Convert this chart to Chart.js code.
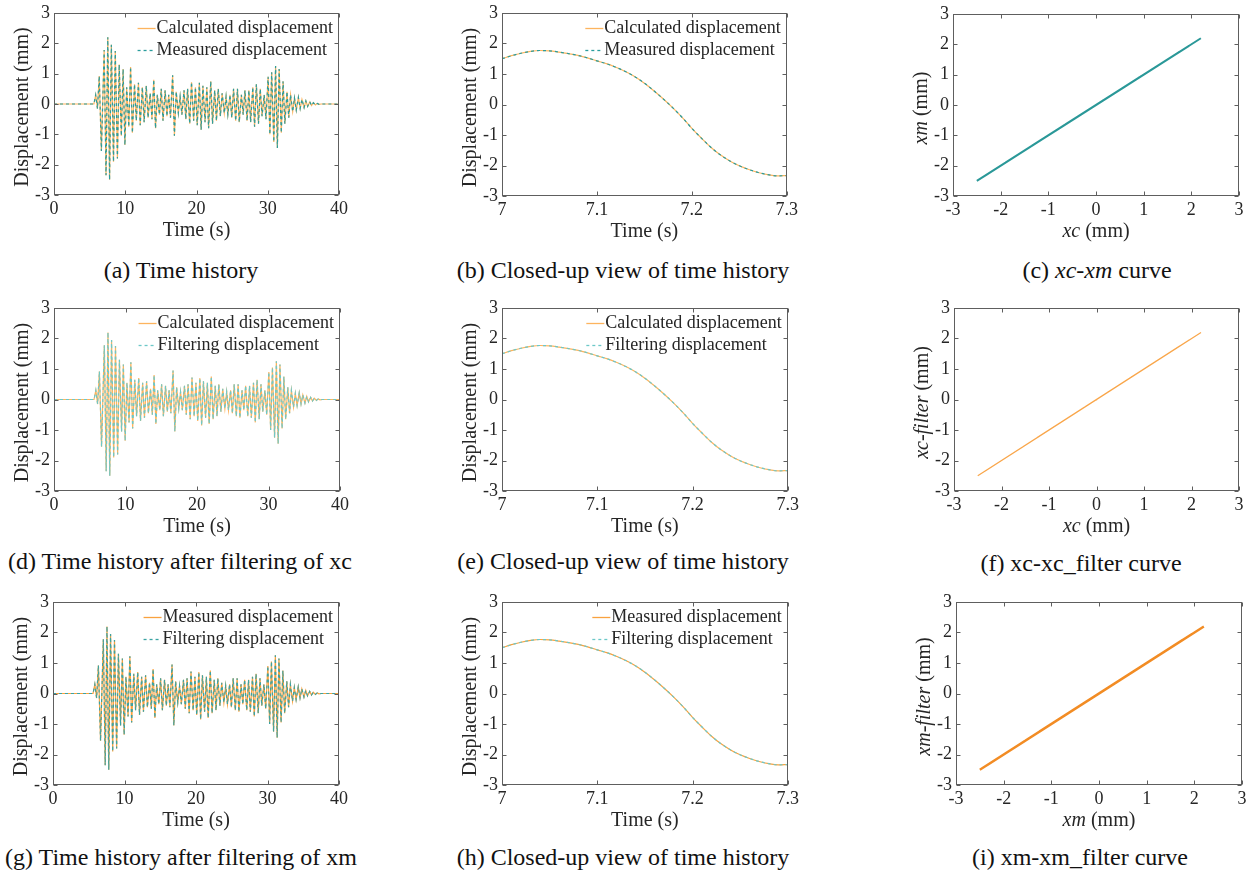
<!DOCTYPE html>
<html>
<head>
<meta charset="utf-8">
<script src="https://cdn.jsdelivr.net/npm/chart.js@4.4.0/dist/chart.umd.min.js"></script>
<style>
  body { margin: 0; background: #fff; width: 1252px; height: 875px; position: relative; overflow: hidden;
         font-family: 'Liberation Serif', 'Times New Roman', serif; }
  canvas { position: absolute; }
  .cap { position: absolute; font-size: 24px; line-height: 1; color: #111; white-space: nowrap; transform: translate(-50%, -50%); }
</style>
</head>
<body>
<script>
// time history (s, mm)
const historyTime = [
  0, 5.6, 5.85, 6.1, 6.35, 6.65, 7.04, 7.3, 7.55, 7.8,
  8.05, 8.35, 8.6, 8.9, 9.15, 9.45, 9.7, 9.95, 10.2, 10.5,
  10.75, 11.0, 11.3, 11.55, 11.85, 12.1, 12.4, 12.65, 12.95, 13.2,
  13.5, 13.75, 14.0, 14.25, 14.5, 14.8, 15.05, 15.3, 15.6, 15.85,
  16.1, 16.35, 16.65, 16.9, 17.15, 17.45, 17.7, 17.95, 18.25, 18.5,
  18.75, 19.05, 19.3, 19.6, 19.85, 20.1, 20.4, 20.65, 20.9, 21.2,
  21.45, 21.7, 22.0, 22.25, 22.55, 22.8, 23.05, 23.35, 23.6, 23.9,
  24.15, 24.4, 24.7, 24.95, 25.2, 25.5, 25.75, 26.0, 26.3, 26.55,
  26.8, 27.1, 27.35, 27.6, 27.9, 28.15, 28.4, 28.7, 28.95, 29.2,
  29.5, 29.75, 30.05, 30.3, 30.55, 30.85, 31.1, 31.35, 31.6, 31.9,
  32.15, 32.4, 32.7, 32.95, 33.2, 33.5, 33.75, 34.0, 34.3, 34.55,
  34.8, 35.1, 35.35, 35.6, 35.9, 36.15, 36.4, 36.7, 36.95, 37.2,
  37.5, 40
];
const calcDisp = [
  0, 0, 0.30, -0.15, 0.92, -1.55, 1.78, -2.35, 2.20, -2.50,
  1.95, -1.90, 1.75, -1.80, 1.30, -1.05, 1.15, -1.35, 0.55, -0.75,
  1.22, -0.95, 0.65, -0.55, 0.70, -0.70, 0.55, -0.60, 0.60, -0.45,
  0.35, -0.50, 0.80, -0.80, 0.30, -0.35, 0.50, -0.55, 0.45, -0.40,
  0.30, -0.45, 0.95, -1.05, 0.40, -0.30, 0.25, -0.35, 0.45, -0.50,
  0.50, -0.65, 0.72, -0.55, 0.55, -0.70, 0.70, -0.85, 0.60, -0.60,
  0.55, -0.80, 0.75, -0.65, 0.45, -0.55, 0.50, -0.40, 0.35, -0.30,
  0.25, -0.35, 0.30, -0.45, 0.50, -0.55, 0.50, -0.60, 0.30, -0.35,
  0.45, -0.55, 0.45, -0.60, 0.55, -0.75, 0.65, -0.65, 0.50, -0.40,
  0.30, -0.50, 0.90, -1.00, 1.05, -1.25, 1.25, -1.45, 1.15, -0.95,
  0.75, -0.65, 0.40, -0.45, 0.30, -0.25, 0.20, -0.20, 0.22, -0.15,
  0.15, -0.12, 0.10, -0.08, 0.07, -0.05, 0.04, -0.03, 0.02, -0.01,
  0, 0
];
// measured and filtered traces lie on top of the calculated one
const measDisp = calcDisp;
const filtCalcDisp = calcDisp;
const filtMeasDisp = calcDisp;

// closed-up window 7.0 - 7.3 s
const zoomTime = [
  7.00, 7.01, 7.02, 7.03, 7.04, 7.05, 7.06, 7.07, 7.08, 7.09,
  7.10, 7.11, 7.12, 7.13, 7.14, 7.15, 7.16, 7.17, 7.18, 7.19,
  7.20, 7.21, 7.22, 7.23, 7.24, 7.25, 7.26, 7.27, 7.28, 7.29, 7.30
];
const zoomDisp = [
  1.50, 1.60, 1.68, 1.74, 1.77, 1.76, 1.72, 1.67, 1.61, 1.53,
  1.43, 1.34, 1.22, 1.08, 0.91, 0.70, 0.45, 0.18, -0.11, -0.43,
  -0.78, -1.10, -1.40, -1.65, -1.85, -2.01, -2.13, -2.23, -2.30, -2.34, -2.33
];

const timeTicks = [0, 10, 20, 30, 40];
const zoomTicks = [7, 7.1, 7.2, 7.3];
const dispTicks = [-3, -2, -1, 0, 1, 2, 3];

const FONT = "'Liberation Serif', 'Times New Roman', serif";
const INK = '#262626';
const AXIS = '#5e5e5e';

function pts(xs, ys) {
  return xs.map((x, i) => ({ x: x, y: ys[i] }));
}

function richText(ctx, parts, x, y, size, vertical) {
  ctx.save();
  ctx.translate(x, y);
  if (vertical) ctx.rotate(-Math.PI / 2);
  ctx.textBaseline = 'middle';
  ctx.textAlign = 'left';
  ctx.fillStyle = INK;
  const fonts = parts.map(p => (p[1] ? 'italic ' : '') + size + 'px ' + FONT);
  let total = 0;
  const widths = parts.map((p, i) => {
    ctx.font = fonts[i];
    const w = ctx.measureText(p[0]).width;
    total += w;
    return w;
  });
  let cx = -total / 2;
  parts.forEach((p, i) => {
    ctx.font = fonts[i];
    ctx.fillText(p[0], cx, 0);
    cx += widths[i];
  });
  ctx.restore();
}

// box, inward ticks, inner legend and axis titles in the matlab manner
const matlabFrame = {
  id: 'matlabFrame',
  afterDatasetsDraw(chart, args, o) {
    const { ctx, chartArea: a, scales } = chart;
    ctx.save();
    ctx.strokeStyle = AXIS;
    ctx.lineWidth = 1;
    const l = Math.round(a.left) + 0.5, r = Math.round(a.right) - 0.5;
    const t = Math.round(a.top) + 0.5, b = Math.round(a.bottom) - 0.5;
    ctx.strokeRect(l, t, r - l, b - t);
    const tl = 4;
    ctx.beginPath();
    scales.x.ticks.forEach(tk => {
      const px = Math.round(scales.x.getPixelForValue(tk.value)) + 0.5;
      ctx.moveTo(px, b); ctx.lineTo(px, b - tl);
      ctx.moveTo(px, t); ctx.lineTo(px, t + tl);
    });
    scales.y.ticks.forEach(tk => {
      const py = Math.round(scales.y.getPixelForValue(tk.value)) + 0.5;
      ctx.moveTo(l, py); ctx.lineTo(l + tl, py);
      ctx.moveTo(r, py); ctx.lineTo(r - tl, py);
    });
    ctx.stroke();

    if (o.legend) {
      const ds = chart.data.datasets;
      ctx.font = '18px ' + FONT;
      const maxW = Math.max(...ds.map(d => ctx.measureText(d.label).width));
      const tx = a.right - 6 - maxW;
      ds.forEach((d, i) => {
        const y = Math.round(a.top + 15 + i * 22) + 0.5;
        ctx.strokeStyle = d.borderColor;
        ctx.lineWidth = 1.3;
        ctx.setLineDash(d.borderDash || []);
        ctx.beginPath();
        ctx.moveTo(tx - 19, y);
        ctx.lineTo(tx - 1, y);
        ctx.stroke();
        ctx.setLineDash([]);
        ctx.fillStyle = INK;
        ctx.textBaseline = 'middle';
        ctx.textAlign = 'left';
        ctx.fillText(d.label, tx, y);
      });
    }
    richText(ctx, o.xTitle, (a.left + a.right) / 2, a.bottom + 36, 20, false);
    richText(ctx, o.yTitle, a.left - 31, (a.top + a.bottom) / 2 + 3, 20, true);
    ctx.restore();
  }
};

function traceSet(label, xs, ys, color, dashed, smooth) {
  return {
    label: label,
    data: pts(xs, ys),
    borderColor: color,
    borderWidth: 1.2,
    borderDash: dashed ? [3, 3] : [],
    pointRadius: 0,
    tension: smooth ? 0.4 : 0,
    cubicInterpolationMode: smooth ? 'monotone' : 'default',
    order: dashed ? 0 : 1
  };
}

function axis(ticks, fit) {
  return {
    type: 'linear',
    min: ticks[0],
    max: ticks[ticks.length - 1],
    afterBuildTicks: s => { s.ticks = ticks.map(v => ({ value: v })); },
    afterFit: fit,
    grid: { display: false, drawTicks: false },
    border: { display: false },
    ticks: {
      font: { size: 18, family: FONT, lineHeight: 1 },
      color: INK,
      autoSkip: false,
      maxRotation: 0,
      callback: v => String(v)
    }
  };
}

function makePanel(p) {
  const W = p.w + 54 + 16, H = p.h + 10 + 52;
  const cv = document.createElement('canvas');
  cv.width = W; cv.height = H;
  cv.style.left = (p.left - 54) + 'px';
  cv.style.top = (p.top - 10) + 'px';
  cv.style.width = W + 'px';
  cv.style.height = H + 'px';
  document.body.appendChild(cv);

  const xAxis = axis(p.xTicks, s => { s.height = H - 10 - p.h; });
  xAxis.ticks.padding = 5;
  const yAxis = axis(dispTicks, s => { s.width = 54; });
  yAxis.ticks.padding = 4;

  new Chart(cv, {
    type: 'line',
    data: { datasets: p.datasets },
    options: {
      responsive: false,
      animation: false,
      devicePixelRatio: 1,
      layout: { padding: { left: 0, top: 10, right: 16, bottom: 0 } },
      scales: { x: xAxis, y: yAxis },
      plugins: {
        legend: { display: false },
        tooltip: { enabled: false },
        matlabFrame: { legend: p.legend, xTitle: p.xTitle, yTitle: p.yTitle }
      }
    },
    plugins: [matlabFrame]
  });

  const cap = document.createElement('div');
  cap.className = 'cap';
  cap.style.left = p.capX + 'px';
  cap.style.top = p.capY + 'px';
  cap.innerHTML = p.caption;
  document.body.appendChild(cap);
}

const ORANGE = '#FDB45E';
const TEAL = '#2A9D9D';
const TEAL_LIGHT = '#6CC8C8';
const dispTitle = [['Displacement (mm)', false]];
const timeTitle = [['Time (s)', false]];

const panels = [
  { left: 54, top: 10, w: 285, h: 185, xTicks: timeTicks, legend: true, capX: 181, capY: 270,
    caption: '(a) Time history', xTitle: timeTitle, yTitle: dispTitle,
    datasets: [traceSet('Calculated displacement', historyTime, calcDisp, ORANGE, false),
               traceSet('Measured displacement', historyTime, measDisp, TEAL, true)] },
  { left: 502, top: 10, w: 285, h: 186, xTicks: zoomTicks, legend: true, capX: 623, capY: 270,
    caption: '(b) Closed-up view of time history', xTitle: timeTitle, yTitle: dispTitle,
    datasets: [traceSet('Calculated displacement', zoomTime, zoomDisp, ORANGE, false, true),
               traceSet('Measured displacement', zoomTime, zoomDisp, TEAL, true, true)] },
  { left: 953, top: 11, w: 286, h: 185, xTicks: dispTicks, legend: false, capX: 1097, capY: 270,
    caption: '(c) <i>xc-xm</i> curve', xTitle: [['xc', true], [' (mm)', false]], yTitle: [['xm', true], [' (mm)', false]],
    datasets: [Object.assign(traceSet('xc-xm', calcDisp, measDisp, '#2A9898', false), { borderWidth: 2 })] },

  { left: 54, top: 305, w: 286, h: 186, xTicks: timeTicks, legend: true, capX: 180, capY: 561,
    caption: '(d) Time history after filtering of xc', xTitle: timeTitle, yTitle: dispTitle,
    datasets: [traceSet('Calculated displacement', historyTime, calcDisp, ORANGE, false),
               traceSet('Filtering displacement', historyTime, filtCalcDisp, TEAL_LIGHT, true)] },
  { left: 502, top: 305, w: 286, h: 186, xTicks: zoomTicks, legend: true, capX: 623, capY: 561,
    caption: '(e) Closed-up view of time history', xTitle: timeTitle, yTitle: dispTitle,
    datasets: [traceSet('Calculated displacement', zoomTime, zoomDisp, ORANGE, false, true),
               traceSet('Filtering displacement', zoomTime, zoomDisp, TEAL_LIGHT, true, true)] },
  { left: 954, top: 305, w: 285, h: 186, xTicks: dispTicks, legend: false, capX: 1081, capY: 563,
    caption: '(f) xc-xc_filter curve', xTitle: [['xc', true], [' (mm)', false]], yTitle: [['xc-filter', true], [' (mm)', false]],
    datasets: [traceSet('xc-xc_filter', calcDisp, filtCalcDisp, '#F9A64A', false)] },

  { left: 53, top: 599, w: 286, h: 186, xTicks: timeTicks, legend: true, capX: 181, capY: 857,
    caption: '(g) Time history after filtering of xm', xTitle: timeTitle, yTitle: dispTitle,
    datasets: [traceSet('Measured displacement', historyTime, measDisp, '#F9A23F', false),
               traceSet('Filtering displacement', historyTime, filtMeasDisp, '#3AA3A3', true)] },
  { left: 502, top: 599, w: 286, h: 186, xTicks: zoomTicks, legend: true, capX: 623, capY: 857,
    caption: '(h) Closed-up view of time history', xTitle: timeTitle, yTitle: dispTitle,
    datasets: [traceSet('Measured displacement', zoomTime, zoomDisp, '#F9A23F', false, true),
               traceSet('Filtering displacement', zoomTime, zoomDisp, TEAL_LIGHT, true, true)] },
  { left: 956, top: 599, w: 286, h: 186, xTicks: dispTicks, legend: false, capX: 1080, capY: 857,
    caption: '(i) xm-xm_filter curve', xTitle: [['xm', true], [' (mm)', false]], yTitle: [['xm-filter', true], [' (mm)', false]],
    datasets: [Object.assign(traceSet('xm-xm_filter', measDisp, filtMeasDisp, '#F28C24', false), { borderWidth: 2.4 })] }
];

panels.forEach(makePanel);
</script>
</body>
</html>
